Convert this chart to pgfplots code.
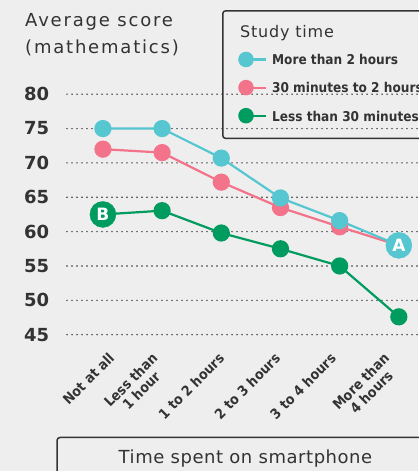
\documentclass[border=0pt]{standalone}
\usepackage{fontspec}
\setmainfont{DejaVu Sans}
\newfontfamily\condfont{DejaVu Sans Condensed}
\usepackage{pgfplots}
\pgfplotsset{compat=1.18}
\definecolor{bg}{HTML}{EEEEEE}
\definecolor{txt}{HTML}{333333}
\definecolor{cyanc}{HTML}{56C6D0}
\definecolor{pinkc}{HTML}{F2738A}
\definecolor{greenc}{HTML}{009B5E}
\begin{document}
\begin{tikzpicture}
\path[use as bounding box, fill=bg] (0,0) rectangle (418pt,471pt);
\begin{axis}[
  at={(67pt,136.3pt)}, anchor=south west,
  scale only axis, width=351pt, height=240.5pt,
  xmin=-0.607, xmax=5.324, ymin=45, ymax=80,
  axis line style={draw=none},
  major tick length=0pt,
  /pgf/number format/assume math mode=true,
  ytick={45,50,...,80},
  ymajorgrids,
  grid style={txt, line width=1.6pt, line cap=round, dash pattern=on 0pt off 5pt},
  yticklabel style={anchor=east, inner sep=0pt, font=\bfseries\fontsize{18}{18}\selectfont, text=txt},
  yticklabel shift=17.7pt,
  xtick={0.081,0.812,1.939,2.885,3.825,4.727},
  xticklabels={{Not at all},{Less than\\1 hour},{1 to 2 hours},{2 to 3 hours},{3 to 4 hours},{More than\\4 hours}},
  xticklabel style={rotate=45, anchor=north east, align=center, inner sep=0pt, font=\condfont\bfseries\fontsize{14}{15}\selectfont, text=txt},
  xticklabel shift=17pt,
  clip=false,
  legend style={at={(0.4416,1.3501)}, anchor=north west, draw=txt, line width=1.5pt, rounded corners=3pt, fill=none,
    inner xsep=15.5pt, inner ysep=15pt, row sep=12.6pt, column sep=5pt,
    nodes={inner sep=0pt, text height=12pt, text depth=1.4pt, text=txt, font=\condfont\bfseries\fontsize{13.5}{14}\selectfont}},
  legend cell align=left,
  legend image code/.code={\draw[#1, line width=2.2pt] (0pt,0pt) -- (20pt,0pt); \fill[#1] (0pt,0pt) circle (7pt);},
]
\addlegendimage{empty legend}
\addlegendentry{\hspace{-32pt}\normalfont\fontsize{16}{16}\selectfont\addfontfeature{LetterSpace=5}Study time}
\addlegendimage{cyanc}
\addlegendentry{More than 2 hours}
\addlegendimage{pinkc}
\addlegendentry{30 minutes to 2 hours}
\addlegendimage{greenc}
\addlegendentry{Less than 30 minutes}

\addplot[forget plot, pinkc, line width=2.2pt, mark=*, mark size=7.5pt, mark options={draw=none}]
  coordinates {(0,72) (1,71.5) (2,67.2) (3,63.5) (4,60.7) (5,58)};
\addplot[forget plot, cyanc, line width=2.2pt, mark=*, mark size=7.5pt, mark options={draw=none}]
  coordinates {(0,75) (1,75) (2,70.7) (3,64.9) (4,61.6) (5,58)};
\addplot[forget plot, greenc, line width=2.2pt, mark=*, mark size=7.5pt, mark options={draw=none}]
  coordinates {(0,62.5) (1,63.05) (2,59.8) (3,57.5) (4,55) (5,47.6)};
\addplot[forget plot, only marks, cyanc, mark=*, mark size=13pt, mark options={draw=none},
  point meta=explicit symbolic, nodes near coords,
  every node near coord/.style={anchor=center, text=white, inner sep=0pt, font=\bfseries\fontsize{17}{17}\selectfont}]
  coordinates {(5,58) [A]};
\addplot[forget plot, only marks, greenc, mark=*, mark size=13pt, mark options={draw=none},
  point meta=explicit symbolic, nodes near coords,
  every node near coord/.style={anchor=center, text=white, inner sep=0pt, font=\bfseries\fontsize{17}{17}\selectfont}]
  coordinates {(0,62.5) [B]};
\end{axis}
\node[anchor=base west, align=left, text=txt, inner sep=0pt, font=\fontsize{18}{26.6}\selectfont\addfontfeature{LetterSpace=10}] at (25pt,417.7pt) {Average score\\(mathematics)};
\draw[txt, line width=1.5pt, rounded corners=3pt] (57pt,-20pt) rectangle (440pt,33.5pt);
\node[anchor=base, text=txt, inner sep=0pt, font=\fontsize{18}{18}\selectfont\addfontfeature{LetterSpace=3}] at (245.5pt,7.7pt) {Time spent on smartphone};
\end{tikzpicture}
\end{document}
